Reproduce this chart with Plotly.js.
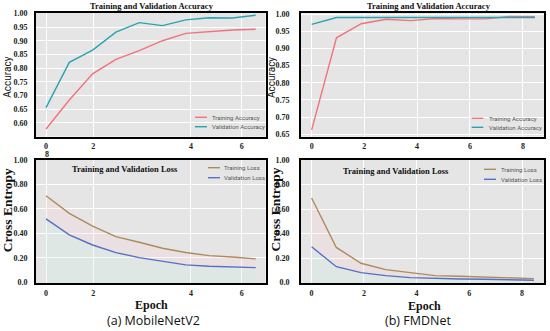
<!DOCTYPE html>
<html><head><meta charset="utf-8">
<script src="https://cdn.plot.ly/plotly-3.0.1.min.js"></script>
<style>html,body{margin:0;padding:0;background:#fff;}#chart{width:550px;height:331px;}</style>
</head><body><div id="chart"></div>
<script>
// ---- data ----
const epochs = [0,1,2,3,4,5,6,7,8,9];
const mobTrainAcc = [0.578,0.684,0.779,0.832,0.864,0.900,0.927,0.933,0.939,0.942];
const mobValAcc   = [0.656,0.821,0.866,0.931,0.966,0.955,0.976,0.984,0.983,0.993];
const fmdTrainAcc = [0.663,0.931,0.972,0.985,0.981,0.987,0.986,0.986,0.993,0.992];
const fmdValAcc   = [0.970,0.990,0.990,0.990,0.990,0.990,0.990,0.990,0.990,0.990];
const mobTrainLoss = [0.708,0.564,0.460,0.373,0.327,0.278,0.243,0.218,0.207,0.191];
const mobValLoss   = [0.518,0.387,0.305,0.243,0.202,0.174,0.142,0.131,0.125,0.120];
const fmdTrainLoss = [0.690,0.287,0.158,0.106,0.082,0.057,0.052,0.046,0.035,0.033];
const fmdValLoss   = [0.292,0.130,0.082,0.057,0.041,0.033,0.030,0.028,0.022,0.019];
const mobTickLabels = ["0","2","4","6"];
const fmdTickLabels = ["0","2","4","6","8"];
const accTicksMob = ["0.60","0.65","0.70","0.75","0.80","0.85","0.90","0.95","1.00"];
const accTicksFmd = ["0.65","0.70","0.75","0.80","0.85","0.90","0.95","1.00"];
const lossTicks = ["0.0","0.20","0.40","0.60","0.80","1.00"];
const legendAcc = ["Training Accuracy","Validation Accuracy"];
const legendLoss = ["Training Loss","Validation Loss"];

// ---- styling ----
const W = 550, H = 331;
const cTA = '#f2727c', cVA = '#2aa3b1', cTL = '#ad8c5c', cVL = '#5570c6';
const px = v => v / W, py = v => 1 - v / H;
const fillLow = 'rgba(200,240,228,0.22)', fillHigh = 'rgba(255,200,208,0.2)';

const traces = [
  {x:epochs, y:mobTrainAcc, xaxis:'x', yaxis:'y', mode:'lines', line:{color:cTA,width:1.4}, name:legendAcc[0]},
  {x:epochs, y:mobValAcc, xaxis:'x', yaxis:'y', mode:'lines', line:{color:cVA,width:1.4}, name:legendAcc[1]},
  {x:epochs, y:fmdTrainAcc, xaxis:'x2', yaxis:'y2', mode:'lines', line:{color:cTA,width:1.4}, name:legendAcc[0]},
  {x:epochs, y:fmdValAcc, xaxis:'x2', yaxis:'y2', mode:'lines', line:{color:cVA,width:1.4}, name:legendAcc[1]},
  {x:epochs, y:mobValLoss, xaxis:'x3', yaxis:'y3', mode:'lines', fill:'tozeroy', fillcolor:fillLow, line:{color:cVL,width:1.4}, name:legendLoss[1]},
  {x:epochs, y:mobTrainLoss, xaxis:'x3', yaxis:'y3', mode:'lines', fill:'tonexty', fillcolor:fillHigh, line:{color:cTL,width:1.4}, name:legendLoss[0]},
  {x:epochs, y:fmdValLoss, xaxis:'x4', yaxis:'y4', mode:'lines', fill:'tozeroy', fillcolor:fillLow, line:{color:cVL,width:1.4}, name:legendLoss[1]},
  {x:epochs, y:fmdTrainLoss, xaxis:'x4', yaxis:'y4', mode:'lines', fill:'tonexty', fillcolor:fillHigh, line:{color:cTL,width:1.4}, name:legendLoss[0]},
];

const tickFont = {family:'Liberation Serif', size:8, color:'#222', weight:'bold'};
function xax(domain, range, tickvals, ticktext, anchor){
  return {domain, range, anchor, tickvals, ticktext, showgrid:true, gridcolor:'#ffffff', gridwidth:1,
    zeroline:false, showline:true, linecolor:'#000', linewidth:2, mirror:true, ticks:'',
    ticklabelstandoff:1, tickfont:tickFont, fixedrange:true};
}
function yax(domain, range, tickvals, ticktext, anchor, standoff){
  return {domain, range, anchor, tickvals, ticktext, showgrid:true, gridcolor:'#ffffff', gridwidth:1,
    zeroline:false, showline:true, linecolor:'#000', linewidth:2, mirror:true, ticks:'',
    ticklabelstandoff:standoff, tickfont:tickFont, fixedrange:true};
}
const accValsMob = accTicksMob.map(Number), accValsFmd = accTicksFmd.map(Number), lossVals = lossTicks.map(Number);
const dxL = [px(36), px(265.7)], dxR = [px(301), px(544.3)];
const dyT = [py(136.7), py(12.7)], dyB = [py(283), py(160)];

const ann = [];
function addText(text, x, y, font, extra){ ann.push(Object.assign({text, x:px(x), y:py(y), xref:'paper', yref:'paper', showarrow:false, font, xanchor:'center', yanchor:'middle'}, extra||{})); }
const titleFont = {family:'Liberation Serif', size:8.5, color:'#111'};
addText('<b>Training and Validation Accuracy</b>', 151.7, 5.7, titleFont);
addText('<b>Training and Validation Accuracy</b>', 428.7, 5.7, titleFont);
addText('<b>Training and Validation Loss</b>', 125.3, 169, titleFont);
addText('<b>Training and Validation Loss</b>', 395.8, 170.7, titleFont);
const accFont = {family:'Roboto', size:10, color:'#111'};
addText('Accuracy', 7.2, 77.5, accFont, {textangle:-90});
addText('Accuracy', 271.5, 77.5, accFont, {textangle:-90});
const ceFont = {family:'Liberation Serif', size:13.5, color:'#111'};
addText('<b>Cross Entropy</b>', 7.2, 210, ceFont, {textangle:-90});
addText('<b>Cross Entropy</b>', 274.5, 210, ceFont, {textangle:-90});
const epFont = {family:'Liberation Serif', size:12, color:'#111'};
addText('<b>Epoch</b>', 151.7, 304.5, epFont);
addText('<b>Epoch</b>', 424.7, 305.5, epFont);
const capFont = {family:'Open Sans', size:12.5, color:'#111'};
addText('(a) MobileNetV2', 153.7, 320.7, capFont);
addText('(b) FMDNet', 418.3, 320.7, capFont);
addText('<b>8</b>', 46.7, 154.5, {family:'Liberation Serif', size:8, color:'#222'});

// manual legends
const legFont = {family:'Roboto', size:6, color:'#555'};
const shapes = [];
function legend(labels, colors, lx0, lx1, tx, ys){
  labels.forEach((lab,i)=>{
    shapes.push({type:'line', xref:'paper', yref:'paper', x0:px(lx0), x1:px(lx1), y0:py(ys[i]), y1:py(ys[i]), line:{color:colors[i], width:1.4}});
    addText(lab, tx, ys[i], legFont, {xanchor:'left'});
  });
}
legend(legendAcc, [cTA,cVA], 195, 207, 209.5, [117.3,126.7]);
legend(legendAcc, [cTA,cVA], 471.7, 483.3, 486.5, [118.3,127.3]);
legend(legendLoss, [cTL,cVL], 208, 220, 221.5, [167.7,177.7]);
legend(legendLoss, [cTL,cVL], 484, 496, 499, [169.3,179.3]);

const layout = {
  width:W, height:H, margin:{l:0,r:0,t:0,b:0}, paper_bgcolor:'#fff', plot_bgcolor:'#e5e5e5',
  showlegend:false,
  xaxis: xax(dxL, [-0.43,9.43], [0,2.03,6.22,8.4], mobTickLabels, 'y'),
  yaxis: yax(dyT, [0.55,1.0022], accValsMob, accTicksMob, 'x', 5),
  xaxis2: xax(dxR, [-0.43,9.38], [0,2.12,4.25,6.38,8.52], fmdTickLabels, 'y2'),
  yaxis2: yax(dyT, [0.643,1.004], accValsFmd, accTicksFmd, 'x2', 8),
  xaxis3: xax(dxL, [-0.43,9.43], [0,2.03,6.22,8.4], mobTickLabels, 'y3'),
  yaxis3: yax(dyB, [-0.006,1.0], lossVals, lossTicks, 'x3', 5),
  xaxis4: xax(dxR, [-0.43,9.42], [0,2.12,4.25,6.38,8.52], fmdTickLabels, 'y4'),
  yaxis4: yax(dyB, [-0.003,1.0], lossVals, lossTicks, 'x4', 8),
  annotations: ann, shapes: shapes
};
Plotly.newPlot('chart', traces, layout, {staticPlot:true, displayModeBar:false});
</script></body></html>
